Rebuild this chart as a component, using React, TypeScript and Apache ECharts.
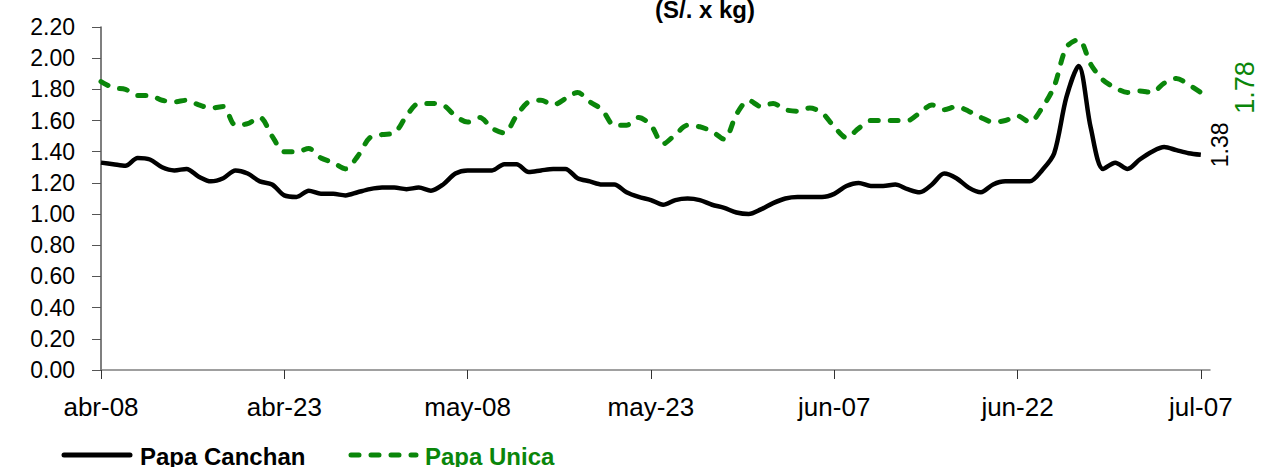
import React, { useEffect, useRef } from "react";
import * as echarts from "echarts";

const tickLabels = ["abr-08", "abr-23", "may-08", "may-23", "jun-07", "jun-22", "jul-07"];
const seriesNames = ["Papa Canchan", "Papa Unica"];

// daily prices, abr-08 .. jul-07 (91 days)
const papaCanchan = [
  1.33, 1.32, 1.31, 1.36, 1.35, 1.30, 1.28, 1.29, 1.24, 1.21,
  1.23, 1.28, 1.26, 1.21, 1.19, 1.12, 1.11, 1.15, 1.13, 1.13,
  1.12, 1.14, 1.16, 1.17, 1.17, 1.16, 1.17, 1.15, 1.19, 1.26,
  1.28, 1.28, 1.28, 1.32, 1.32, 1.27, 1.28, 1.29, 1.29, 1.23,
  1.21, 1.19, 1.19, 1.14, 1.11, 1.09, 1.06, 1.09, 1.10, 1.09,
  1.06, 1.04, 1.01, 1.00, 1.03, 1.07, 1.10, 1.11, 1.11, 1.11,
  1.13, 1.18, 1.20, 1.18, 1.18, 1.19, 1.16, 1.14, 1.19, 1.26,
  1.23, 1.17, 1.14, 1.19, 1.21, 1.21, 1.21, 1.28, 1.39, 1.75,
  1.95, 1.55, 1.29, 1.33, 1.29, 1.35, 1.40, 1.43, 1.41, 1.39,
  1.38,
];

const papaUnica = [
  1.85, 1.81, 1.80, 1.76, 1.76, 1.73, 1.72, 1.73, 1.70, 1.68,
  1.69, 1.57, 1.58, 1.62, 1.50, 1.40, 1.40, 1.42, 1.36, 1.33,
  1.29, 1.37, 1.49, 1.51, 1.52, 1.63, 1.71, 1.71, 1.70, 1.63,
  1.59, 1.62, 1.55, 1.52, 1.63, 1.72, 1.73, 1.70, 1.74, 1.78,
  1.72, 1.67, 1.57, 1.57, 1.62, 1.57, 1.45, 1.51, 1.57, 1.56,
  1.53, 1.48, 1.64, 1.73, 1.69, 1.71, 1.67, 1.66, 1.68, 1.65,
  1.56, 1.49, 1.55, 1.60, 1.60, 1.60, 1.60, 1.65, 1.70, 1.67,
  1.69, 1.66, 1.62, 1.59, 1.60, 1.63, 1.59, 1.68, 1.82, 2.07,
  2.12, 1.96, 1.86, 1.81, 1.78, 1.79, 1.78, 1.84, 1.87, 1.83,
  1.78,
];

const GREEN = "#0a860a";
const FONT = "'Liberation Sans', Arial, sans-serif";

export default function App() {
  const ref = useRef<HTMLDivElement>(null);
  useEffect(() => {
    if (!ref.current) return;
    const chart = echarts.init(ref.current, null, { renderer: "svg" });
    const last = papaCanchan.length - 1;
    chart.setOption({
      animation: false,
      title: {
        text: "(S/. x kg)",
        left: 700,
        top: -8,
        textAlign: "center",
        textStyle: { fontFamily: FONT, fontSize: 24, fontWeight: "bold", color: "#000" },
      },
      grid: { left: 101, right: 51, top: 27, bottom: 97, containLabel: false },
      xAxis: {
        type: "value",
        min: 0,
        max: last + 0.75,
        interval: 15,
        axisLine: { show: true, onZero: false, lineStyle: { color: "#808080", width: 1.5 } },
        axisTick: { show: true, length: 9, lineStyle: { color: "#333" } },
        splitLine: { show: false },
        axisLabel: {
          fontFamily: FONT,
          fontSize: 26,
          color: "#000",
          margin: 24,
          showMaxLabel: false,
          formatter: (v: number) => {
            const k = Math.round(v / 15);
            return Math.abs(v - k * 15) < 0.01 && tickLabels[k] ? tickLabels[k] : "";
          },
        },
      },
      yAxis: {
        type: "value",
        min: 0,
        max: 2.2,
        interval: 0.2,
        axisLine: { show: true, lineStyle: { color: "#555", width: 1.5 } },
        axisTick: { show: true, length: 9, lineStyle: { color: "#555" } },
        splitLine: { show: false },
        axisLabel: {
          fontFamily: FONT,
          fontSize: 23,
          color: "#000",
          margin: 26,
          formatter: (v: number) => v.toFixed(2),
        },
      },
      series: [
        {
          name: seriesNames[0],
          type: "line",
          data: papaCanchan.map((v, i) => [i, v]),
          smooth: 0.3,
          symbol: "none",
          lineStyle: { color: "#000", width: 4.5 },
          itemStyle: { color: "#000" },
        },
        {
          name: seriesNames[1],
          type: "line",
          data: papaUnica.map((v, i) => [i, v]),
          smooth: 0.3,
          symbol: "none",
          lineStyle: { color: GREEN, width: 5, type: [8, 12], cap: "round" },
          itemStyle: { color: GREEN },
        },
      ],
    });
    const pC = chart.convertToPixel({ gridIndex: 0 }, [last, papaCanchan[last]]) as number[];
    const pU = chart.convertToPixel({ gridIndex: 0 }, [last, papaUnica[last]]) as number[];
    const legY = 455;
    chart.setOption({
      graphic: [
        {
          type: "text",
          x: pC[0] + 19,
          y: pC[1] - 10,
          rotation: Math.PI / 2,
          style: {
            text: papaCanchan[last].toFixed(2),
            fontFamily: FONT,
            fontSize: 23,
            fill: "#000",
            align: "center",
            verticalAlign: "middle",
          },
        },
        {
          type: "text",
          x: pU[0] + 44,
          y: pU[1] - 5,
          rotation: Math.PI / 2,
          style: {
            text: papaUnica[last].toFixed(2),
            fontFamily: FONT,
            fontSize: 27,
            fill: GREEN,
            align: "center",
            verticalAlign: "middle",
          },
        },
        // legend
        {
          type: "line",
          shape: { x1: 64, y1: legY, x2: 130, y2: legY },
          style: { stroke: "#000", lineWidth: 5, lineCap: "round" },
        },
        {
          type: "text",
          x: 140,
          y: legY + 1,
          style: {
            text: seriesNames[0],
            fontFamily: FONT,
            fontSize: 24,
            fontWeight: "bold",
            fill: "#000",
            align: "left",
            verticalAlign: "middle",
          },
        },
        {
          type: "line",
          shape: { x1: 351, y1: legY, x2: 416, y2: legY },
          style: { stroke: GREEN, lineWidth: 5, lineCap: "round", lineDash: [8, 12] },
        },
        {
          type: "text",
          x: 425,
          y: legY + 1,
          style: {
            text: seriesNames[1],
            fontFamily: FONT,
            fontSize: 24,
            fontWeight: "bold",
            fill: GREEN,
            align: "left",
            verticalAlign: "middle",
          },
        },
      ],
    });
    return () => chart.dispose();
  }, []);
  return <div ref={ref} style={{ width: 1261, height: 467, position: "absolute", left: 0, top: 0 }} />;
}
